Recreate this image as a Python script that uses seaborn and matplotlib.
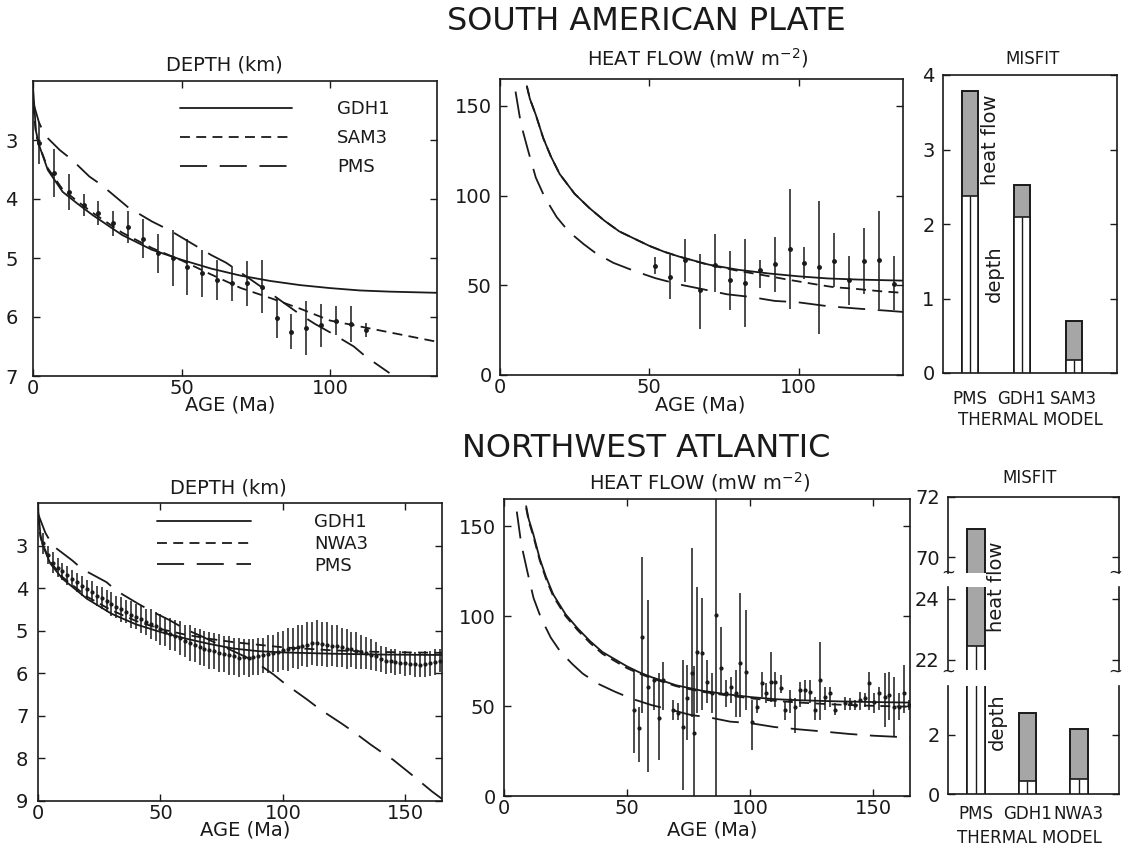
import numpy as np
import matplotlib
matplotlib.use('Agg')
import matplotlib.pyplot as plt
import seaborn as sns

# ---------------- South American plate ----------------
# depth data (age in Ma, depth in km, +/- error)
sa_age = [2, 7, 12, 17, 22, 27, 32, 37, 42, 47, 52, 57, 62, 67, 72, 77, 82, 87, 92, 97, 102, 107, 112]
sa_depth = [3.05, 3.56, 3.88, 4.10, 4.24, 4.41, 4.47, 4.67, 4.92, 5.00, 5.15, 5.26, 5.37, 5.43, 5.43, 5.49,
            6.02, 6.25, 6.19, 6.14, 6.06, 6.12, 6.22]
sa_depth_err = [0.35, 0.41, 0.30, 0.18, 0.20, 0.21, 0.27, 0.33, 0.33, 0.47, 0.48, 0.40, 0.34, 0.30, 0.38, 0.45,
                0.34, 0.30, 0.46, 0.36, 0.25, 0.30, 0.12]

# depth models
sa_model_age = [0, 1, 2, 5, 10, 15, 20, 30, 40, 50, 60, 70, 80, 90, 100, 110, 120, 136]
gdh1_sa_depth = [2.10, 2.85, 3.08, 3.51, 3.88, 4.08, 4.27, 4.61, 4.86, 5.03, 5.18, 5.30, 5.39, 5.46, 5.51, 5.55, 5.57, 5.59]
sam3_depth = [2.40, 2.90, 3.08, 3.48, 3.84, 4.04, 4.23, 4.57, 4.83, 5.04, 5.28, 5.51, 5.68, 5.86, 6.06, 6.16, 6.26, 6.42]
pms_sa_age = [0, 2, 4, 9, 13, 19, 23, 32, 40, 46, 53, 60, 65, 70, 80, 90, 95, 100, 108, 112, 120]
pms_sa_depth = [2.35, 2.70, 2.92, 3.17, 3.33, 3.62, 3.76, 4.14, 4.38, 4.53, 4.74, 4.95, 5.08, 5.25, 5.60, 5.96,
                6.12, 6.26, 6.50, 6.67, 6.95]

# heat flow data (mW m-2): centre, lower and upper end of bar
sa_hf_age = [52, 57, 62, 67, 72, 77, 82, 87, 92, 97, 102, 107, 112, 117, 122, 127, 132]
sa_hf = [61.0, 54.6, 64.3, 47.2, 61.1, 53.1, 51.3, 58.3, 61.7, 70.0, 62.4, 60.2, 63.5, 52.8, 63.5, 63.9, 50.9]
sa_hf_lo = [56.5, 42.6, 51.9, 25.4, 46.3, 36.1, 26.9, 48.7, 46.3, 37.0, 53.7, 23.1, 49.0, 38.9, 45.4, 37.0, 36.1]
sa_hf_hi = [66.0, 66.7, 75.9, 67.6, 78.7, 69.4, 75.9, 63.9, 77.2, 103.7, 71.3, 96.9, 79.0, 66.1, 82.0, 91.3, 66.1]

# heat flow models
gdh1_hf_age = [9, 10, 12, 14.5, 17, 20, 25, 30, 35, 40, 45, 50, 55, 60, 70, 80, 90, 100, 110, 120, 135, 150, 165]
gdh1_hf = [161, 154, 145, 132, 122, 112, 101, 93, 86, 80, 76, 72, 68.7, 66, 61.5, 58.6, 56.6, 55, 53.8, 53.2,
           52.6, 52.2, 51.9]
sam3_hf_age = [9, 10, 12, 14.5, 17, 20, 25, 30, 35, 40, 45, 50, 55, 60, 70, 80, 87, 92, 97, 107, 112, 118, 123,
               128, 135]
sam3_hf = [161, 154, 145, 132, 122, 112, 101, 93, 86, 80, 76, 72, 68.7, 66, 61.3, 58.0, 56.0, 54.5, 53.0, 50.2,
           48.9, 48.2, 47.4, 46.6, 45.8]
pms_hf_age = [5.2, 7, 9.6, 12, 15, 19, 23, 28, 32, 38, 45, 52, 60, 68, 76, 84, 92, 100, 110, 120, 130, 140, 150, 165]
pms_hf = [158, 140, 124, 110, 99, 88, 80, 73, 68, 62.5, 58, 54, 50.5, 47.8, 45, 43.5, 41.3, 40.5, 38.3, 37,
          35.8, 34.5, 33.5, 32.5]

# misfit
sa_models = ['PMS', 'GDH1', 'SAM3']
sa_misfit_depth = [2.38, 2.10, 0.18]
sa_misfit_total = [3.78, 2.52, 0.70]

# ---------------- Northwest Atlantic ----------------
na_age = [2, 4, 6, 8, 10, 12, 14, 16, 18, 20, 22, 24, 26, 28, 30, 32, 34, 36, 38, 40,
          42, 44, 46, 48, 50, 52, 54, 56, 58, 60, 62, 64, 66, 68, 70, 72, 74, 76, 78, 80,
          82, 84, 86, 88, 90, 92, 94, 96, 98, 100, 102, 104, 106, 108, 110, 112, 114, 116, 118, 120,
          122, 124, 126, 128, 130, 132, 134, 136, 138, 140, 142, 144, 146, 148, 150, 152, 154, 156, 158, 160,
          162, 164]
na_depth = [2.95, 3.22, 3.40, 3.52, 3.60, 3.70, 3.78, 3.86, 3.95, 4.03, 4.08, 4.18, 4.24, 4.30, 4.37, 4.44, 4.50,
            4.55, 4.62, 4.67, 4.73, 4.80, 4.84, 4.90, 4.97, 5.02, 5.08, 5.12, 5.18, 5.24, 5.28, 5.33, 5.38, 5.42,
            5.46, 5.48, 5.52, 5.55, 5.58, 5.60, 5.63, 5.62, 5.64, 5.62, 5.60, 5.58, 5.55, 5.53, 5.50, 5.46, 5.44,
            5.40, 5.38, 5.35, 5.33, 5.30, 5.29, 5.31, 5.33, 5.35, 5.36, 5.39, 5.42, 5.44, 5.47, 5.49, 5.52, 5.56,
            5.60, 5.66, 5.70, 5.72, 5.74, 5.75, 5.77, 5.78, 5.79, 5.80, 5.78, 5.77, 5.74, 5.70]
na_depth_err = [0.25, 0.22, 0.24, 0.22, 0.20, 0.22, 0.20, 0.22, 0.24, 0.22,
                0.25, 0.23, 0.26, 0.25, 0.28, 0.26, 0.30, 0.28, 0.32, 0.30,
                0.33, 0.31, 0.35, 0.33, 0.36, 0.34, 0.38, 0.36, 0.40, 0.38,
                0.42, 0.40, 0.43, 0.41, 0.44, 0.42, 0.45, 0.43, 0.45, 0.44,
                0.46, 0.43, 0.45, 0.42, 0.44, 0.41, 0.45, 0.43, 0.48, 0.46,
                0.50, 0.47, 0.52, 0.48, 0.53, 0.50, 0.55, 0.52, 0.53, 0.48,
                0.50, 0.46, 0.47, 0.42, 0.44, 0.40, 0.38, 0.36, 0.34, 0.30,
                0.32, 0.28, 0.30, 0.27, 0.29, 0.27, 0.30, 0.28, 0.31, 0.29,
                0.30, 0.27]

na_model_age = [0, 1, 2, 5, 10, 20, 30, 40, 50, 60, 70, 80, 90, 100, 120, 140, 165]
gdh1_na_depth = [2.10, 2.75, 3.00, 3.42, 3.78, 4.25, 4.60, 4.85, 5.03, 5.18, 5.31, 5.42, 5.48, 5.51, 5.54, 5.56, 5.57]
nwa3_depth = [2.30, 2.80, 2.98, 3.38, 3.74, 4.20, 4.52, 4.77, 4.96, 5.09, 5.19, 5.27, 5.33, 5.39, 5.46, 5.50, 5.52]
pms_na_age = [0, 3, 6, 14, 18, 28, 32, 41, 46, 54, 60, 66, 76, 88, 96, 101, 110, 115, 124, 129, 136, 141, 145,
              153, 161, 165]
pms_na_depth = [2.25, 2.70, 3.00, 3.35, 3.55, 3.86, 4.06, 4.37, 4.53, 4.76, 4.96, 5.11, 5.38, 5.70, 6.02, 6.25,
                6.62, 6.84, 7.18, 7.38, 7.68, 7.88, 8.03, 8.40, 8.78, 8.95]

na_hf_age = [53.0, 55.0, 56.2, 58.4, 61.0, 63.1, 64.5, 68.6, 70.9, 72.6, 74.5, 76.3, 77.4, 78.3, 80.4, 82.4,
             84.7, 86.2, 88.2, 90.2, 92.3, 94.3, 95.9, 98.2, 100.7, 102.7, 104.7, 106.5, 108.4, 110.2, 112.6,
             114.2, 116.3, 118.3, 120.3, 122.4, 124.4, 126.4, 128.5, 130.5, 132.5, 134.6, 138.6, 140.7, 142.7,
             144.7, 146.7, 148.5, 150.4, 152.4, 154.9, 156.6, 158.5, 160.7, 162.6, 164.4]
na_hf = [47.8, 37.6, 88.5, 60.7, 64.4, 43.1, 64.4, 47.8, 45.9, 38.5, 54.3, 68.5, 35.0, 80.2, 79.3, 63.5, 57.0,
         100.5, 70.9, 57.0, 60.7, 57.0, 73.7, 69.1, 41.3, 49.6, 62.6, 57.0, 63.5, 63.5, 59.8, 47.8, 53.3, 49.6,
         58.9, 58.9, 57.9, 47.8, 64.4, 55.2, 57.0, 47.8, 51.5, 51.5, 50.6, 53.3, 54.3, 62.6, 52.4, 57.0, 55.2,
         56.1, 49.6, 49.6, 57.0, 50.6]
na_hf_lo = [23.7, 19.1, 45.9, 13.5, 47.8, 20.0, 47.8, 42.2, 42.2, 3.3, 31.1, 44.1, -10, 45.9, 47.8, 51.5, 45.9,
            -10, 57.0, 49.6, 51.5, 44.1, 44.1, 47.8, 25.6, 45.9, 55.2, 51.5, 52.4, 49.6, 57.0, 42.2, 45.9, 34.8,
            49.6, 53.3, 51.5, 42.2, 42.2, 47.8, 49.6, 45.0, 47.8, 47.8, 47.8, 47.8, 49.6, 47.8, 45.9, 47.8, 38.5,
            42.2, 33.0, 42.2, 45.9, 47.8]
na_hf_hi = [70.0, 49.6, 133.0, 108.9, 66.3, 68.1, 74.6, 53.3, 51.5, 75.6, 72.8, 137.6, 72.0, 116.3, 109.8, 75.6,
            68.1, 175.0, 94.1, 64.4, 66.3, 70.0, 112.6, 103.3, 53.3, 53.3, 69.1, 62.6, 80.2, 69.1, 67.2, 52.4,
            58.9, 54.3, 63.5, 64.4, 64.4, 55.2, 85.7, 60.7, 60.7, 51.5, 55.2, 54.3, 53.3, 57.9, 57.0, 69.1, 57.0,
            60.7, 68.1, 69.1, 66.3, 57.0, 72.8, 53.3]

nwa3_hf_age = [9, 10, 12, 14.5, 17, 20, 25, 30, 35, 40, 45, 50, 55, 60, 70, 80, 90, 100, 110, 120, 135, 150, 165]
nwa3_hf = [160, 153, 144, 131, 121, 111, 100, 92, 85, 79, 75, 71, 68, 65.4, 61, 58, 56, 54.3, 52.9, 51.9, 50.8,
           50.1, 49.6]

na_models = ['PMS', 'GDH1', 'NWA3']
na_misfit_depth = [22.45, 0.45, 0.50]
na_misfit_total = [70.95, 2.75, 2.20]

# ---------------- figure ----------------
sns.set_theme(style='ticks')
plt.rcParams['font.family'] = ['DejaVu Sans']
plt.rcParams['text.color'] = 'k'

W, H = 1123, 850
fig = plt.figure(figsize=(W / 100, H / 100), dpi=100)
fig.patch.set_facecolor('white')

SHORT = (0, (5.5, 3.5))
LONG = (0, (15, 7))
LW = 1.3
GRAY = '#a6a6a6'


def px_box(l, t, r, b):
    return [l / W, 1 - b / H, (r - l) / W, (b - t) / H]


def px_text(x, y, s, **kw):
    kw.setdefault('ha', 'center')
    kw.setdefault('va', 'center')
    fig.text(x / W, 1 - y / H, s, **kw)


def style(ax, ypad=6):
    ax.set_facecolor('white')
    ax.tick_params(direction='in', length=5, width=1, top=True, right=True, labelsize=14, colors='k')
    ax.tick_params(axis='x', pad=2)
    ax.tick_params(axis='y', pad=ypad)
    for sp in ax.spines.values():
        sp.set_linewidth(1.2)
        sp.set_color('k')
    ax.set_xlabel('')
    ax.set_ylabel('')


def errbars(ax, x, y, lo, hi, ms=2.5):
    y = np.array(y)
    yerr = [y - np.array(lo), np.array(hi) - y]
    ax.errorbar(x, y, yerr=yerr, fmt='o', ms=ms, color='k', ecolor='k', elinewidth=1.1, capsize=0, zorder=3)


def misfit(ax, models, depth, total, width):
    sns.barplot(x=models, y=total, color=GRAY, edgecolor='k', linewidth=1.4, width=width,
                saturation=1, ax=ax, zorder=2)
    sns.barplot(x=models, y=depth, color='white', edgecolor='k', linewidth=1.2, width=width,
                saturation=1, ax=ax, zorder=3)
    ax.vlines(np.arange(len(models)), 0, depth, color='k', lw=1.0, zorder=4)


# ---- top left: depth SA
ax = fig.add_axes(px_box(33, 81, 437, 376))
sns.lineplot(x=sa_model_age, y=gdh1_sa_depth, color='k', lw=LW, ax=ax, label='GDH1')
sns.lineplot(x=sa_model_age, y=sam3_depth, color='k', lw=LW, linestyle=SHORT, ax=ax, label='SAM3')
sns.lineplot(x=pms_sa_age, y=pms_sa_depth, color='k', lw=LW, linestyle=LONG, ax=ax, label='PMS')
sa_d = np.array(sa_depth)
sa_e = np.array(sa_depth_err)
errbars(ax, sa_age, sa_d, sa_d - sa_e, sa_d + sa_e)
ax.set_xlim(0, 136)
ax.set_ylim(7, 2)
ax.set_xticks([0, 50, 100])
ax.set_yticks([3, 4, 5, 6, 7])
style(ax, ypad=11)
ax.legend(loc='upper left', bbox_to_anchor=(0.364, 0.935), frameon=False, fontsize=13,
          handlelength=6.2, handletextpad=2.5, labelspacing=0.6, borderpad=0, borderaxespad=0)

# ---- top middle: heat flow SA
ax = fig.add_axes(px_box(500, 79, 903, 375))
sns.lineplot(x=gdh1_hf_age, y=gdh1_hf, color='k', lw=LW, ax=ax)
sns.lineplot(x=sam3_hf_age, y=sam3_hf, color='k', lw=LW, linestyle=SHORT, ax=ax)
sns.lineplot(x=pms_hf_age, y=pms_hf, color='k', lw=LW, linestyle=LONG, ax=ax)
errbars(ax, sa_hf_age, sa_hf, sa_hf_lo, sa_hf_hi)
ax.set_xlim(0, 135)
ax.set_ylim(0, 165)
ax.set_xticks([0, 50, 100])
ax.set_yticks([0, 50, 100, 150])
style(ax)

# ---- top right: misfit SA
ax = fig.add_axes(px_box(943, 75, 1117, 373))
misfit(ax, sa_models, sa_misfit_depth, sa_misfit_total, 0.32)
ax.set_xlim(-0.52, 2.83)
ax.set_ylim(0, 4)
ax.set_yticks([0, 1, 2, 3, 4])
style(ax)
ax.tick_params(axis='x', length=0, pad=12, top=False, labelsize=12)

# ---- bottom left: depth NA
ax = fig.add_axes(px_box(38, 503, 442, 801))
sns.lineplot(x=na_model_age, y=gdh1_na_depth, color='k', lw=LW, ax=ax, label='GDH1')
sns.lineplot(x=na_model_age, y=nwa3_depth, color='k', lw=LW, linestyle=SHORT, ax=ax, label='NWA3')
sns.lineplot(x=pms_na_age, y=pms_na_depth, color='k', lw=LW, linestyle=LONG, ax=ax, label='PMS')
na_d = np.array(na_depth)
na_e = np.array(na_depth_err)
errbars(ax, na_age, na_d, na_d - na_e, na_d + na_e, ms=2)
ax.set_xlim(0, 165)
ax.set_ylim(9, 2)
ax.set_xticks([0, 50, 100, 150])
ax.set_yticks([3, 4, 5, 6, 7, 8, 9])
style(ax, ypad=7)
ax.legend(loc='upper left', bbox_to_anchor=(0.295, 0.965), frameon=False, fontsize=13,
          handlelength=5.2, handletextpad=3.5, labelspacing=0.2, borderpad=0, borderaxespad=0)

# ---- bottom middle: heat flow NA
ax = fig.add_axes(px_box(504, 499, 910, 796))
sns.lineplot(x=gdh1_hf_age, y=gdh1_hf, color='k', lw=LW, ax=ax)
sns.lineplot(x=nwa3_hf_age, y=nwa3_hf, color='k', lw=LW, linestyle=SHORT, ax=ax)
sns.lineplot(x=pms_hf_age, y=pms_hf, color='k', lw=LW, linestyle=LONG, ax=ax)
errbars(ax, na_hf_age, na_hf, na_hf_lo, na_hf_hi, ms=2)
ax.set_xlim(0, 165)
ax.set_ylim(0, 165)
ax.set_xticks([0, 50, 100, 150])
ax.set_yticks([0, 50, 100, 150])
style(ax)

# ---- bottom right: misfit NA on a broken axis
segs = [((948, 497, 1119, 573), (69.47, 72), [70, 72]),
        ((948, 587, 1119, 670), (21.67, 24.39), [22, 24]),
        ((948, 686, 1119, 794), (0, 3.66), [0, 2])]
for i, (box, lim, ticks) in enumerate(segs):
    ax = fig.add_axes(px_box(*box))
    misfit(ax, na_models, na_misfit_depth, na_misfit_total, 0.34)
    ax.set_xlim(-0.54, 2.78)
    ax.set_ylim(*lim)
    ax.set_yticks(ticks)
    style(ax)
    ax.tick_params(axis='x', top=False, bottom=False, length=0)
    if i > 0:
        ax.spines['top'].set_visible(False)
    if i < 2:
        ax.spines['bottom'].set_visible(False)
        ax.set_xticklabels([])
    else:
        ax.tick_params(axis='x', pad=8, labelsize=12)

for yb in (573, 672):
    px_text(948, yb, '~', fontsize=12)
    px_text(1115, yb, '~', fontsize=12)

# ---- texts
px_text(646, 22, 'SOUTH AMERICAN PLATE', fontsize=23)
px_text(646, 448, 'NORTHWEST ATLANTIC', fontsize=23)

px_text(224, 65, 'DEPTH (km)', fontsize=14)
px_text(698, 58, r'HEAT FLOW (mW m$^{-2}$)', fontsize=14)
px_text(1033, 59, 'MISFIT', fontsize=12)
px_text(228, 488, 'DEPTH (km)', fontsize=14)
px_text(700, 482, r'HEAT FLOW (mW m$^{-2}$)', fontsize=14)
px_text(1030, 478, 'MISFIT', fontsize=12)

px_text(230, 405, 'AGE (Ma)', fontsize=14)
px_text(700, 405, 'AGE (Ma)', fontsize=14)
px_text(1030, 420, 'THERMAL MODEL', fontsize=12)
px_text(245, 830, 'AGE (Ma)', fontsize=14)
px_text(712, 830, 'AGE (Ma)', fontsize=14)
px_text(1029, 838, 'THERMAL MODEL', fontsize=12)

px_text(990, 140, 'heat flow', fontsize=14, rotation=90)
px_text(994, 274, 'depth', fontsize=14, rotation=90)
px_text(997, 587, 'heat flow', fontsize=14, rotation=90)
px_text(997, 722, 'depth', fontsize=14, rotation=90)

fig.savefig('out.png', dpi=100, facecolor='white')
